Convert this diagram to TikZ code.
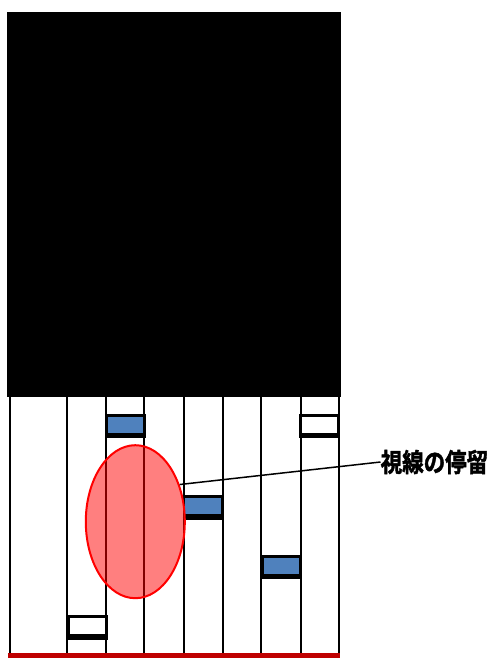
\documentclass[tikz,border=0pt]{standalone}
\usepackage{fontspec}
\newfontfamily\cjk{Noto Sans CJK JP}[UprightFont=* Bold,FakeBold=1.8]
\usetikzlibrary{shapes.geometric}
\definecolor{barblue}{HTML}{4F81BD}
\begin{document}
\begin{tikzpicture}[x=1pt,y=-1pt,
  slot/.style={draw=black,line width=2.6pt,inner sep=0pt,minimum width=38pt,minimum height=19pt,
    append after command={\pgfextra{\draw[line width=3pt] ([yshift=-1pt]\tikzlastnode.south west) -- ([yshift=-1pt]\tikzlastnode.south east);}}},
  blueslot/.style={slot,fill=barblue},
  whiteslot/.style={slot,fill=white},
  grid/.style={line width=2.2pt}]
\useasboundingbox (0,0) rectangle (487,659);
\fill[black] (7,12) rectangle (341,397);
\foreach \x in {10,66.7,106,144.3,184.3,222.7,261,301,339.3}
  \draw[grid] (\x,397) -- (\x,655);
\fill[red!75!black] (8,652.5) rectangle (340,658);
\node[blueslot] (b1) at (125.4,425) {};
\node[whiteslot] (w1) at (319.3,424.7) {};
\node[blueslot] (b2) at (203,506.2) {};
\node[blueslot] (b3) at (281.3,565.7) {};
\node[whiteslot] (w2) at (87.2,626.2) {};
\node[ellipse,draw=red,line width=2pt,fill=red,fill opacity=0.5,draw opacity=1,
  minimum width=99pt,minimum height=153pt,inner sep=0pt] (ell) at (135.3,521.7) {};
\node[font=\cjk\fontsize{21.5}{21.5}\selectfont,anchor=west,inner sep=0pt,yscale=1.2] (lbl) at (380.5,462) {視線の停留};
\draw[line width=1.5pt] (ell.40) -- (lbl.west);
\end{tikzpicture}
\end{document}
